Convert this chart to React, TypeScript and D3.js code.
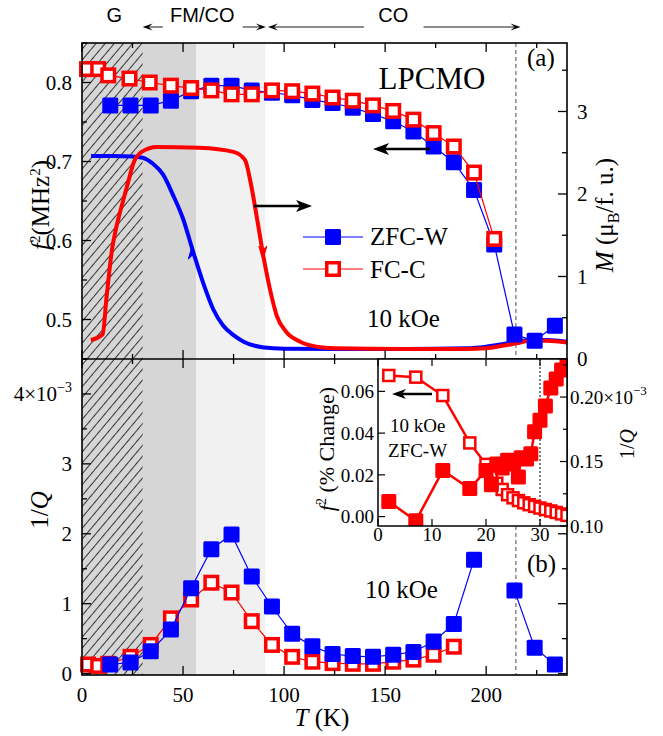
import React from "react";
import * as d3 from "d3";

// ---- (a) f^2 (MHz^2), left axis ----
const zfcT = [14, 24, 34, 44, 54, 64, 74, 84, 94, 104, 114, 124, 134, 144, 154, 164, 174, 184, 194, 204, 214, 224, 234];
const zfcF2 = [0.771, 0.771, 0.771, 0.777, 0.789, 0.796, 0.796, 0.79, 0.787, 0.784, 0.778, 0.774, 0.768, 0.76, 0.751, 0.738, 0.719, 0.699, 0.664, 0.595, 0.481, 0.473, 0.492];
const fccT = [2.5, 8, 13, 23.5, 33.5, 44, 54, 64, 74, 84, 94, 104, 114, 124, 134, 144, 154, 164, 174, 184, 194, 204];
const fccF2 = [0.817, 0.817, 0.809, 0.805, 0.8, 0.796, 0.793, 0.79, 0.785, 0.785, 0.79, 0.789, 0.786, 0.781, 0.777, 0.771, 0.764, 0.753, 0.736, 0.719, 0.686, 0.602];

// ---- (a) M (muB/f.u.), right axis ----
const mZfcT = [4.5, 15, 25, 30, 35, 40, 45, 50, 55, 60, 65, 70, 75, 80, 90, 100, 130, 160, 190, 200, 208, 215, 222, 230, 240];
const mZfcM = [2.46, 2.46, 2.455, 2.44, 2.37, 2.24, 1.99, 1.7, 1.3, 0.92, 0.6, 0.4, 0.29, 0.21, 0.14, 0.125, 0.12, 0.12, 0.13, 0.15, 0.18, 0.21, 0.23, 0.23, 0.21];
const mFccT = [4.4, 10.2, 12.2, 14.7, 17, 19.6, 22.9, 25.4, 29.5, 37, 58, 75, 80.7, 83.2, 86.5, 89.8, 93.9, 96.3, 101, 108, 116, 125, 160, 190, 200, 208, 215, 222, 230, 240];
const mFccM = [0.23, 0.3, 0.76, 1.3, 1.6, 1.85, 2.15, 2.37, 2.51, 2.57, 2.56, 2.51, 2.41, 2.17, 1.72, 1.24, 0.75, 0.53, 0.33, 0.21, 0.15, 0.13, 0.12, 0.12, 0.13, 0.16, 0.19, 0.22, 0.22, 0.2];

// ---- (b) 1/Q (x10^-3) ----
const qZfcT = [14, 24, 34, 44, 54, 64, 74, 84, 94, 104, 114, 124, 134, 144, 154, 164, 174, 184, 194, 214, 224, 234];
const qZfcQ = [0.13, 0.16, 0.32, 0.63, 1.22, 1.78, 1.99, 1.39, 0.96, 0.57, 0.39, 0.28, 0.25, 0.24, 0.27, 0.31, 0.46, 0.71, 1.63, 1.19, 0.37, 0.13];
const qFccT = [3, 8, 13, 24, 34, 44, 54, 64, 74, 84, 94, 104, 114, 124, 134, 144, 154, 164, 174, 184];
const qFccQ = [0.13, 0.11, 0.14, 0.24, 0.41, 0.79, 1.06, 1.3, 1.16, 0.75, 0.41, 0.24, 0.17, 0.15, 0.14, 0.14, 0.17, 0.2, 0.27, 0.385];

// ---- inset: f^2 % change (open) and 1/Q (filled), ZFC-W 10 kOe ----
const insOpenT = [2, 7, 12, 17, 20, 21, 22, 23, 24, 25, 26, 27, 28, 29, 30, 31, 32, 33, 34, 35];
const insOpenF = [0.0676, 0.0668, 0.058, 0.0353, 0.025, 0.019, 0.016, 0.013, 0.0105, 0.009, 0.0077, 0.0066, 0.0057, 0.0049, 0.0041, 0.0034, 0.0027, 0.002, 0.0013, 0.0006];
const insFillT = [2, 7, 12, 17, 20, 21, 22, 23, 24, 25, 26, 26.5, 27.5, 28.3, 29, 30, 31, 32, 33, 34, 35];
const insFillQ = [0.119, 0.104, 0.143, 0.129, 0.143, 0.132, 0.148, 0.145, 0.151, 0.148, 0.138, 0.153, 0.152, 0.156, 0.173, 0.182, 0.193, 0.207, 0.214, 0.221, 0.229];

// ---- regions / labels ----
const bandEdges = [0, 30, 56.5, 90.7];
const phaseNames = ["G", "FM/CO", "CO"];
const phaseCenters = [16, 59.5, 154];
const phaseArrows = [[40, 30], [79.5, 91], [139.5, 92], [169, 217]];
const tcLine = 214.7;

const serif = "'Liberation Serif', 'Times New Roman', serif";
const sans = "'Liberation Sans', Arial, sans-serif";
const BLUE = "#0000ff";
const RED = "#ff0000";

const App = () => {
  const L = 82, R = 567, TOP = 43, MID = 359, BOT = 675;
  const x = d3.scaleLinear().domain([0, 240]).range([L, R]);
  const yF = d3.scaleLinear().domain([0.45, 0.85]).range([MID, TOP]);
  const yM = d3.scaleLinear().domain([0, 3.83]).range([MID, TOP]);
  const yQ = d3.scaleLinear().domain([-0.02, 4.5]).range([BOT, MID]);

  const IL = 378, IB = 526;
  const ix = d3.scaleLinear().domain([0, 35]).range([IL, R]);
  const iyF = d3.scaleLinear().domain([-0.0045, 0.0755]).range([IB, MID]);
  const iyQ = d3.scaleLinear().domain([0.1, 0.2295]).range([IB, MID]);

  const zip = (a: number[], b: number[]) => a.map((v, i) => [v, b[i]] as [number, number]);
  const lineOf = (sx: any, sy: any, curve: any = d3.curveLinear) =>
    d3.line<[number, number]>().x(d => sx(d[0])).y(d => sy(d[1])).curve(curve);

  const filled = (pts: [number, number][], sx: any, sy: any, s: number, color: string, key: string) =>
    pts.map((d, i) => (
      <rect key={key + i} x={sx(d[0]) - s / 2} y={sy(d[1]) - s / 2} width={s} height={s} rx={1.5} fill={color} />
    ));
  const open = (pts: [number, number][], sx: any, sy: any, s: number, sw: number, key: string) =>
    pts.map((d, i) => (
      <rect key={key + i} x={sx(d[0]) - s / 2} y={sy(d[1]) - s / 2} width={s} height={s} fill="#fff" stroke={RED} strokeWidth={sw} />
    ));

  const arrow = (x1: number, x2: number, y: number, color = "#000", w = 2.5, hl = 14, hw = 5, key = "") => {
    const dir = Math.sign(x2 - x1);
    const bx = x2 - dir * hl;
    return (
      <g key={key}>
        <line x1={x1} x2={bx + dir * 4} y1={y} y2={y} stroke={color} strokeWidth={w} />
        <path d={`M${x2},${y} L${bx},${y - hw} L${bx + dir * 4},${y} L${bx},${y + hw} Z`} fill="#000" />
      </g>
    );
  };

  const tTicks = d3.range(0, 241, 25);
  const fTicks = d3.range(0.45, 0.851, 0.05);
  const mTicks = d3.range(0, 3.81, 0.5);
  const qTicks = d3.range(0, 4.51, 0.5);
  const isMajor = (v: number, step: number) => Math.abs(v / step - Math.round(v / step)) < 1e-6;

  const zfcPts = zip(zfcT, zfcF2);
  const fccPts = zip(fccT, fccF2);
  const qZfcPts = zip(qZfcT, qZfcQ);
  const qFccPts = zip(qFccT, qFccQ);
  const insOpen = zip(insOpenT, insOpenF);
  const insFill = zip(insFillT, insFillQ);

  return (
    <svg width={663} height={736} style={{ position: "absolute", left: 0, top: 0, background: "#fff" }} fontFamily={serif}>
      <defs>
        <pattern id="hatch" width={7} height={7} patternUnits="userSpaceOnUse" patternTransform="rotate(40)">
          <line x1={3.5} x2={3.5} y1={0} y2={7} stroke="#222" strokeWidth={0.9} />
        </pattern>
        <clipPath id="insetClip">
          <rect x={IL} y={MID} width={R - IL} height={IB - MID} />
        </clipPath>
      </defs>

      {/* bands */}
      <rect x={x(bandEdges[0])} y={TOP} width={x(bandEdges[2]) - x(bandEdges[0])} height={BOT - TOP} fill="#d6d6d6" />
      <rect x={x(bandEdges[0])} y={TOP} width={x(bandEdges[1]) - x(bandEdges[0])} height={BOT - TOP} fill="url(#hatch)" />
      <rect x={x(bandEdges[2])} y={TOP} width={x(bandEdges[3]) - x(bandEdges[2])} height={BOT - TOP} fill="#f1f1f1" />

      {/* Tc dashed line */}
      <line x1={x(tcLine)} x2={x(tcLine)} y1={TOP} y2={BOT} stroke="#777" strokeWidth={1.3} strokeDasharray="4,3" />

      {/* phase labels */}
      {phaseNames.map((n, i) => (
        <text key={n} x={x(phaseCenters[i])} y={22} textAnchor="middle" fontFamily={sans} fontSize={20}>{n}</text>
      ))}
      {phaseArrows.map((a, i) => arrow(x(a[0]), x(a[1]), 27, "#666", 1.5, 10, 3.5, "pa" + i))}

      {/* ---- top panel ---- */}
      <path d={lineOf(x, yM, d3.curveMonotoneX)(zip(mZfcT, mZfcM)) || ""} fill="none" stroke={BLUE} strokeWidth={4} />
      <path d={lineOf(x, yM, d3.curveMonotoneX)(zip(mFccT, mFccM)) || ""} fill="none" stroke={RED} strokeWidth={4} />
      {/* direction arrows on M curves */}
      <path d={`M${x(54.6)},${yM(1.38)} l-4,14 l4,-4 l4,4 Z`} fill={BLUE} stroke={BLUE} strokeWidth={1} />
      <path d={`M${x(89.5)},${yM(1.2)} l-4,-14 l4,4 l4,-4 Z`} fill={RED} stroke={RED} strokeWidth={1} />

      <path d={lineOf(x, yF)(zfcPts) || ""} fill="none" stroke={BLUE} strokeWidth={1.2} />
      {filled(zfcPts, x, yF, 16, BLUE, "zf")}
      <path d={lineOf(x, yF)(fccPts) || ""} fill="none" stroke={RED} strokeWidth={1.2} />
      {open(fccPts, x, yF, 12.5, 3.5, "fc")}

      {arrow(254, 312, 206, "#000", 2.5, 16, 6, "ar1")}
      {arrow(430, 373, 149, "#000", 2.5, 16, 6, "ar2")}

      {/* legend */}
      <line x1={303} x2={363} y1={237} y2={237} stroke={BLUE} strokeWidth={1.2} />
      <rect x={325} y={229} width={16} height={16} rx={1.5} fill={BLUE} />
      <text x={370} y={245} fontSize={25}>ZFC-W</text>
      <line x1={303} x2={363} y1={269} y2={269} stroke={RED} strokeWidth={1.2} />
      <rect x={326.75} y={262.75} width={12.5} height={12.5} fill="#fff" stroke={RED} strokeWidth={3.5} />
      <text x={370} y={278} fontSize={25}>FC-C</text>

      <text x={432} y={89} textAnchor="middle" fontSize={31}>LPCMO</text>
      <text x={527} y={66} fontSize={25}>(a)</text>
      <text x={367} y={327} fontSize={25}>10 kOe</text>

      {/* ---- bottom panel ---- */}
      <path d={lineOf(x, yQ)(qFccPts) || ""} fill="none" stroke={RED} strokeWidth={1.2} />
      {open(qFccPts, x, yQ, 12.5, 3.5, "qf")}
      <path d={lineOf(x, yQ)(qZfcPts.slice(0, 19)) || ""} fill="none" stroke={BLUE} strokeWidth={1.2} />
      <path d={lineOf(x, yQ)(qZfcPts.slice(19)) || ""} fill="none" stroke={BLUE} strokeWidth={1.2} />
      {filled(qZfcPts, x, yQ, 16, BLUE, "qz")}

      <text x={365} y={598} fontSize={25}>10 kOe</text>
      <text x={527} y={572} fontSize={25}>(b)</text>

      {/* frames */}
      <rect x={L} y={TOP} width={R - L} height={BOT - TOP} fill="none" stroke="#000" strokeWidth={1.6} />
      <line x1={L} x2={R} y1={MID} y2={MID} stroke="#000" strokeWidth={1.6} />

      {/* T ticks */}
      {tTicks.map(t => {
        const len = isMajor(t, 50) ? 9 : 5;
        return (
          <g key={"tt" + t} stroke="#000" strokeWidth={1.3}>
            <line x1={x(t)} x2={x(t)} y1={TOP} y2={TOP + len} />
            <line x1={x(t)} x2={x(t)} y1={MID} y2={MID - len} />
            {x(t) < IL && <line x1={x(t)} x2={x(t)} y1={MID} y2={MID + len} />}
            <line x1={x(t)} x2={x(t)} y1={BOT} y2={BOT - len} />
          </g>
        );
      })}
      {[0, 50, 100, 150, 200].map(t => (
        <text key={"tl" + t} x={x(t)} y={702} textAnchor="middle" fontSize={21}>{t}</text>
      ))}
      <text x={322} y={726} textAnchor="middle" fontSize={25}>
        <tspan fontStyle="italic">T</tspan> (K)
      </text>

      {/* f^2 axis */}
      {fTicks.map(v => {
        const len = isMajor(v, 0.1) ? 9 : 5;
        return <line key={"ft" + v} x1={L} x2={L + len} y1={yF(v)} y2={yF(v)} stroke="#000" strokeWidth={1.3} />;
      })}
      {[0.5, 0.6, 0.7, 0.8].map(v => (
        <text key={"fl" + v} x={72} y={yF(v)} dy="0.35em" textAnchor="end" fontSize={21}>{v.toFixed(1)}</text>
      ))}
      <text transform="translate(40,205) rotate(-90)" textAnchor="middle" fontSize={25} dy="0.35em">
        <tspan fontStyle="italic">f</tspan>
        <tspan dy={-9} fontSize={15}>2</tspan>
        <tspan dy={9}>(MHz</tspan>
        <tspan dy={-9} fontSize={15}>2</tspan>
        <tspan dy={9}>)</tspan>
      </text>

      {/* M axis */}
      {mTicks.map(v => {
        const len = isMajor(v, 1) ? 9 : 5;
        return <line key={"mt" + v} x1={R} x2={R - len} y1={yM(v)} y2={yM(v)} stroke="#000" strokeWidth={1.3} />;
      })}
      {[0, 1, 2, 3].map(v => (
        <text key={"ml" + v} x={577} y={yM(v)} dy="0.35em" fontSize={21}>{v}</text>
      ))}
      <text transform="translate(604,215) rotate(-90)" textAnchor="middle" fontSize={25} dy="0.35em">
        <tspan fontStyle="italic">M</tspan>
        <tspan> (μ</tspan>
        <tspan dy={6} fontSize={16}>B</tspan>
        <tspan dy={-6}>/f. u.)</tspan>
      </text>

      {/* 1/Q axis */}
      {qTicks.map(v => {
        const len = isMajor(v, 1) ? 9 : 5;
        return (
          <g key={"qt" + v} stroke="#000" strokeWidth={1.3}>
            <line x1={L} x2={L + len} y1={yQ(v)} y2={yQ(v)} />
            {yQ(v) > IB + 2 && <line x1={R} x2={R - len} y1={yQ(v)} y2={yQ(v)} />}
          </g>
        );
      })}
      {[0, 1, 2, 3].map(v => (
        <text key={"ql" + v} x={72} y={yQ(v)} dy="0.35em" textAnchor="end" fontSize={21}>{v}</text>
      ))}
      <text x={72} y={yQ(4)} dy="0.35em" textAnchor="end" fontSize={21}>
        4×10<tspan dy={-9} fontSize={14}>−3</tspan>
      </text>
      <text transform="translate(39,510) rotate(-90)" textAnchor="middle" fontSize={25} dy="0.35em">
        1/<tspan fontStyle="italic">Q</tspan>
      </text>

      {/* ---- inset ---- */}
      <rect x={IL} y={MID} width={R - IL} height={IB - MID} fill="#fff" />
      <line x1={ix(30)} x2={ix(30)} y1={MID} y2={IB} stroke="#000" strokeWidth={1} strokeDasharray="2,2" />
      <g clipPath="url(#insetClip)">
        <path d={lineOf(ix, iyQ)(insFill) || ""} fill="none" stroke={RED} strokeWidth={2.5} />
        <path d={lineOf(ix, iyF)(insOpen) || ""} fill="none" stroke={RED} strokeWidth={2.5} />
        {open(insOpen, ix, iyF, 11, 2.5, "io")}
        {filled(insFill, ix, iyQ, 15, RED, "if")}
      </g>
      {arrow(432, 392, 394, "#000", 2.5, 14, 5, "ar3")}
      <text x={390} y={432} fontSize={19}>10 kOe</text>
      <text x={388} y={457} fontSize={19}>ZFC-W</text>
      <rect x={IL} y={MID} width={R - IL} height={IB - MID} fill="none" stroke="#000" strokeWidth={1.5} />
      {[0, 10, 20, 30].map(t => (
        <g key={"it" + t} stroke="#000" strokeWidth={1.2}>
          <line x1={ix(t)} x2={ix(t)} y1={MID} y2={MID + 7} />
          <line x1={ix(t)} x2={ix(t)} y1={IB} y2={IB - 7} />
        </g>
      ))}
      {[0, 10, 20, 30].map(t => (
        <text key={"itl" + t} x={ix(t)} y={541} textAnchor="middle" fontSize={19}>{t}</text>
      ))}
      {[0, 0.02, 0.04, 0.06].map(v => (
        <g key={"ify" + v}>
          <line x1={IL} x2={IL + 7} y1={iyF(v)} y2={iyF(v)} stroke="#000" strokeWidth={1.2} />
          <text x={374} y={iyF(v)} dy="0.35em" textAnchor="end" fontSize={19}>{v.toFixed(2)}</text>
        </g>
      ))}
      <text transform="translate(326,449) rotate(-90)" textAnchor="middle" fontSize={22} dy="0.35em">
        <tspan fontStyle="italic">f</tspan>
        <tspan dy={-8} fontSize={14}>2</tspan>
        <tspan dy={8}> (% Change)</tspan>
      </text>
      {[0.1, 0.125, 0.15, 0.175, 0.2, 0.225].map(v => (
        <line key={"iqt" + v} x1={R} x2={R - (isMajor(v, 0.05) ? 7 : 4)} y1={iyQ(v)} y2={iyQ(v)} stroke="#000" strokeWidth={1.2} />
      ))}
      {[0.1, 0.15].map(v => (
        <text key={"iql" + v} x={570} y={iyQ(v)} dy="0.35em" fontSize={19}>{v.toFixed(2)}</text>
      ))}
      <text x={570} y={iyQ(0.2)} dy="0.35em" fontSize={19}>
        0.20×10<tspan dy={-9} fontSize={13}>−3</tspan>
      </text>
      <text transform="translate(627,444) rotate(-90)" textAnchor="middle" fontSize={20} dy="0.35em">
        1/<tspan fontStyle="italic">Q</tspan>
      </text>
    </svg>
  );
};

export default App;
